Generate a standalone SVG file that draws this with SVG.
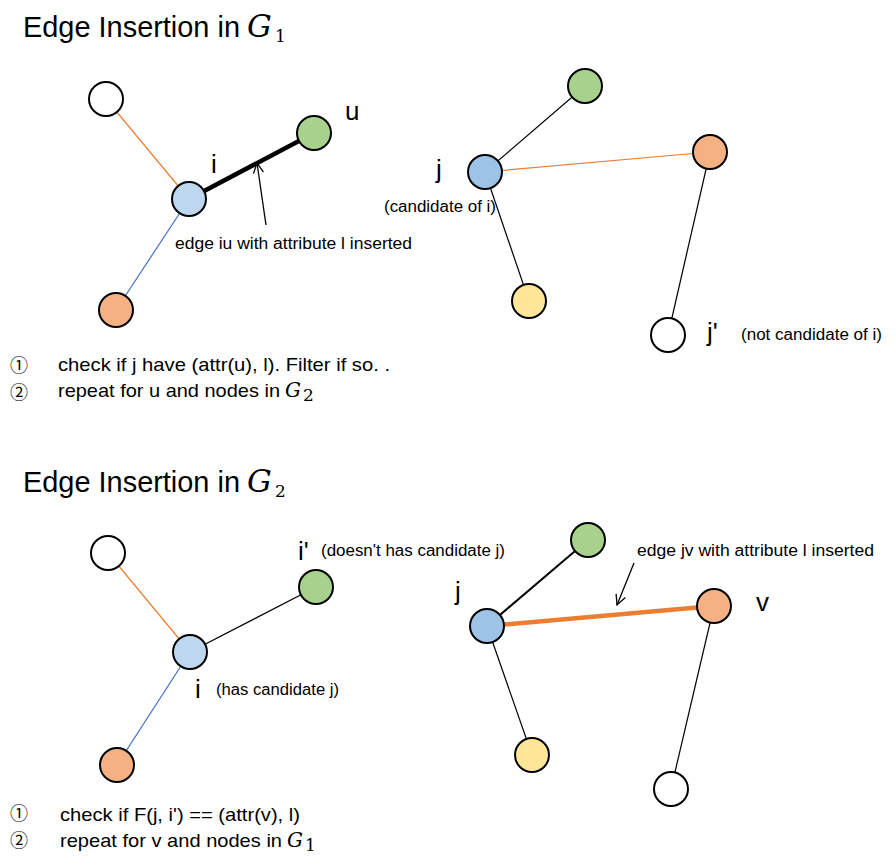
<svg xmlns="http://www.w3.org/2000/svg" width="896" height="864" viewBox="0 0 896 864">
<defs>
<style>
.t{font-family:"Liberation Sans",Arial,sans-serif;fill:#000}
.title{font-size:29px}
.g{font-family:"DejaVu Serif","Liberation Serif",serif;font-style:italic}
.sub{font-family:"DejaVu Serif","Liberation Serif",serif;font-size:17px}
.lbl{font-size:26px}
.note{font-size:16px}
.bul{font-size:19px}
.num{font-family:"Noto Sans CJK SC","DejaVu Sans",sans-serif;font-size:18px}
.n{stroke:#000;stroke-width:2}
.w{fill:#fff}.gr{fill:#A9D18E}.bl{fill:#BDD7EE}.bd{fill:#9DC3E6}.or{fill:#F4B183}.ye{fill:#FFE699}
.e{stroke:#000;stroke-width:1.2;fill:none}
.eo{stroke:#ED7D31;stroke-width:1.2}
.eb{stroke:#4472C4;stroke-width:1.2}
.arr{stroke:#000;stroke-width:1.3;fill:none;marker-end:url(#ah)}
</style>
<marker id="ah" markerWidth="12" markerHeight="12" refX="11" refY="6" orient="auto" markerUnits="userSpaceOnUse">
<path d="M1,1 L11,6 L1,11" fill="none" stroke="#000" stroke-width="1.3"/>
</marker>
</defs>
<rect width="896" height="864" fill="#fff"/>

<g id="titles">
<text class="t title" x="23" y="37" textLength="217" lengthAdjust="spacingAndGlyphs">Edge Insertion in</text>
<text class="g" x="247" y="37" font-size="31">G</text>
<text class="sub" x="275" y="42">1</text>
<text class="t title" x="23" y="492" textLength="217" lengthAdjust="spacingAndGlyphs">Edge Insertion in</text>
<text class="g" x="247" y="492" font-size="31">G</text>
<text class="sub" x="275" y="497">2</text>
</g>

<g id="connectors">
<!-- top-left -->
<line class="eo" x1="106" y1="99" x2="189" y2="199"/>
<line class="eb" x1="189" y1="199" x2="116" y2="310"/>
<line x1="189" y1="199" x2="314" y2="133" stroke="#000" stroke-width="4.5"/>
<line class="arr" x1="266" y1="225" x2="257" y2="163"/>
<!-- top-right -->
<line class="e" x1="485" y1="172" x2="585" y2="86"/>
<line class="eo" x1="485" y1="172" x2="710" y2="152"/>
<line class="e" x1="485" y1="172" x2="529" y2="301"/>
<line class="e" x1="710" y1="152" x2="668" y2="335"/>
<!-- bottom-left -->
<line class="eo" x1="108" y1="553" x2="190" y2="652"/>
<line class="e" x1="190" y1="652" x2="316" y2="587"/>
<line class="eb" x1="190" y1="652" x2="117" y2="765"/>
<!-- bottom-right -->
<line x1="487" y1="626" x2="588" y2="540" stroke="#000" stroke-width="2"/>
<line x1="487" y1="626" x2="714" y2="606" stroke="#ED7D31" stroke-width="4.5"/>
<line class="e" x1="487" y1="626" x2="532" y2="755"/>
<line class="e" x1="714" y1="606" x2="671" y2="789"/>
<line class="arr" x1="634" y1="563" x2="617" y2="605"/>
</g>

<g id="node-tl-white"><circle class="n w" cx="106" cy="99" r="17"/></g>
<g id="node-tl-u"><circle class="n gr" cx="314" cy="133" r="17"/><text class="t lbl" x="345" y="120">u</text></g>
<g id="node-tl-i"><circle class="n bl" cx="189" cy="199" r="17"/><text class="t lbl" x="211" y="173">i</text></g>
<g id="node-tl-orange"><circle class="n or" cx="116" cy="310" r="17"/></g>
<text class="t note" x="175" y="249" textLength="237" lengthAdjust="spacingAndGlyphs">edge iu with attribute l inserted</text>

<g id="node-tr-green"><circle class="n gr" cx="585" cy="86" r="17"/></g>
<g id="node-tr-j"><circle class="n bd" cx="485" cy="172" r="17"/><text class="t lbl" x="436" y="178">j</text><text class="t note" x="384" y="212" textLength="112" lengthAdjust="spacingAndGlyphs">(candidate of i)</text></g>
<g id="node-tr-orange"><circle class="n or" cx="710" cy="152" r="17"/></g>
<g id="node-tr-yellow"><circle class="n ye" cx="529" cy="301" r="17"/></g>
<g id="node-tr-jp"><circle class="n w" cx="668" cy="335" r="17"/><text class="t lbl" x="707" y="341">j'</text><text class="t note" x="741" y="340" textLength="141" lengthAdjust="spacingAndGlyphs">(not candidate of i)</text></g>

<g id="steps-1">
<text class="num" x="10" y="372">①</text>
<text class="num" x="10" y="399">②</text>
<text class="t bul" x="58" y="371" textLength="332" lengthAdjust="spacingAndGlyphs">check if j have (attr(u), l). Filter if so. .</text>
<text class="t bul" x="58" y="397" textLength="222" lengthAdjust="spacingAndGlyphs">repeat for u and nodes in</text>
<text class="g" x="285" y="397" font-size="20">G</text>
<text class="sub" x="303" y="401" font-size="12">2</text>
</g>

<g id="node-bl-white"><circle class="n w" cx="108" cy="553" r="17"/></g>
<g id="node-bl-ip"><circle class="n gr" cx="316" cy="587" r="17"/><text class="t lbl" x="298" y="560">i'</text><text class="t note" x="321" y="556" textLength="184" lengthAdjust="spacingAndGlyphs">(doesn't has candidate j)</text></g>
<g id="node-bl-i"><circle class="n bl" cx="190" cy="652" r="17"/><text class="t lbl" x="195" y="698">i</text><text class="t note" x="216" y="695" textLength="123" lengthAdjust="spacingAndGlyphs">(has candidate j)</text></g>
<g id="node-bl-orange"><circle class="n or" cx="117" cy="765" r="17"/></g>

<g id="node-br-green"><circle class="n gr" cx="588" cy="540" r="17"/></g>
<g id="node-br-j"><circle class="n bd" cx="487" cy="626" r="17"/><text class="t lbl" x="455" y="600">j</text></g>
<g id="node-br-v"><circle class="n or" cx="714" cy="606" r="17"/><text class="t lbl" x="756" y="611">v</text></g>
<g id="node-br-yellow"><circle class="n ye" cx="532" cy="755" r="17"/></g>
<g id="node-br-white"><circle class="n w" cx="671" cy="789" r="17"/></g>
<text class="t note" x="637" y="556" textLength="237" lengthAdjust="spacingAndGlyphs">edge jv with attribute l inserted</text>

<g id="steps-2">
<text class="num" x="10" y="820">①</text>
<text class="num" x="10" y="847">②</text>
<text class="t bul" x="60" y="821" textLength="240" lengthAdjust="spacingAndGlyphs">check if F(j, i') == (attr(v), l)</text>
<text class="t bul" x="60" y="847" textLength="222" lengthAdjust="spacingAndGlyphs">repeat for v and nodes in</text>
<text class="g" x="287" y="847" font-size="20">G</text>
<text class="sub" x="305" y="851" font-size="12">1</text>
</g>
</svg>
